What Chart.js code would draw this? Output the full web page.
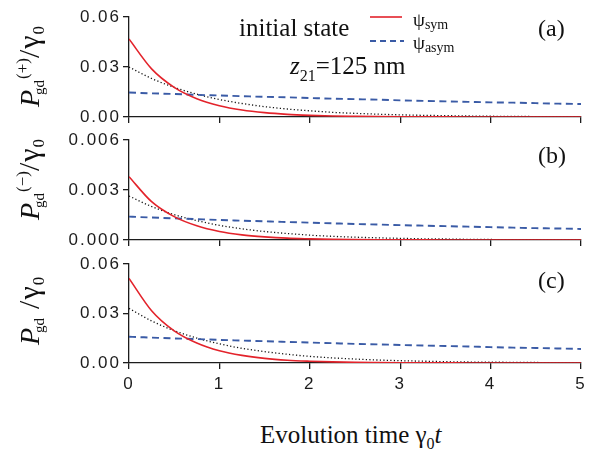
<!DOCTYPE html>
<html>
<head>
<meta charset="utf-8">
<script src="https://cdn.jsdelivr.net/npm/chart.js@4.4.1/dist/chart.umd.min.js"></script>
<style>
  html, body { margin: 0; padding: 0; background: #fff; }
  #wrap { position: relative; width: 601px; height: 455px; overflow: hidden; background: #fff; }
  canvas { position: absolute; left: 0; }
  .t { position: absolute; white-space: nowrap; font-family: "Liberation Serif", "Times New Roman", serif; line-height: 1; color: #111; }
  .ylab { position: absolute; white-space: nowrap; font-family: "Liberation Serif", serif; font-size: 28px; line-height: 1; color: #111; transform-origin: 0 0; transform: rotate(-90deg); }
  .ylab .sb { position: relative; top: 5px; font-size: 15px; margin-left: -5px; }
  .ylab .sp { position: relative; top: -11px; font-size: 17px; margin-left: 1px; }
  .ylab .sl { font-size: 30px; letter-spacing: 1px; }
  .ylab .s0 { position: relative; top: 5px; font-size: 17px; }
  .rel { position: relative; }
</style>
</head>
<body>
<div id="wrap">
  <canvas id="cA" width="601" height="131" style="top:0px"></canvas>
  <canvas id="cB" width="601" height="129" style="top:125px"></canvas>
  <canvas id="cC" width="601" height="155" style="top:250px"></canvas>
</div>
<script>
// ---------------- data ----------------
const TIME = [0, 0.25, 0.5, 0.75, 1, 1.25, 1.5, 1.75, 2, 2.25, 2.5, 2.75, 3, 3.25, 3.5, 3.75, 4, 4.25, 4.5, 4.75, 5];

const SYM_A  = [0.0468, 0.0289, 0.0178, 0.0110, 0.0068, 0.0042, 0.0026, 0.0016, 0.0010, 0.0006, 0.0004, 0.00025, 0.00015, 0.0001, 0.00005, 0.00003, 0.00002, 0.00001, 0.00001, 0, 0];
const ASYM_A = [0.0147, 0.0142, 0.0138, 0.0133, 0.0129, 0.0125, 0.0121, 0.0118, 0.0114, 0.0110, 0.0107, 0.0104, 0.0100, 0.0097, 0.0094, 0.0091, 0.0088, 0.0086, 0.0083, 0.0080, 0.0078];
const DOT_A  = [0.0300, 0.0231, 0.0178, 0.0137, 0.0105, 0.0081, 0.0062, 0.0048, 0.0037, 0.0028, 0.0022, 0.0017, 0.0013, 0.0010, 0.0008, 0.0006, 0.00045, 0.00035, 0.00027, 0.0002, 0.00016];

const SYM_B  = [0.00380, 0.00230, 0.00140, 0.00085, 0.00051, 0.00031, 0.00019, 0.00011, 0.00007, 0.00004, 0.000025, 0.000016, 0.00001, 0.000006, 0.000003, 0.000002, 0.000001, 0, 0, 0, 0];
const ASYM_B = [0.00140, 0.00135, 0.00130, 0.00125, 0.00120, 0.00116, 0.00112, 0.00108, 0.00104, 0.00100, 0.00096, 0.00093, 0.00089, 0.00086, 0.00083, 0.00080, 0.00077, 0.00074, 0.00071, 0.00069, 0.00066];
const DOT_B  = [0.00264, 0.00201, 0.00152, 0.00116, 0.00088, 0.00067, 0.00051, 0.00039, 0.00029, 0.00022, 0.00017, 0.00013, 0.00010, 0.00007, 0.00006, 0.00004, 0.00003, 0.00002, 0.00002, 0.00001, 0.00001];

const SYM_C  = [0.0513, 0.0317, 0.0195, 0.0121, 0.0074, 0.0046, 0.0028, 0.0017, 0.0011, 0.0007, 0.0004, 0.00026, 0.00016, 0.0001, 0.00006, 0.00004, 0.00002, 0.00001, 0.00001, 0, 0];
const ASYM_C = [0.0159, 0.0154, 0.0149, 0.0145, 0.0140, 0.0136, 0.0132, 0.0128, 0.0124, 0.0120, 0.0116, 0.0113, 0.0109, 0.0106, 0.0103, 0.0100, 0.0096, 0.0093, 0.0091, 0.0088, 0.0085];
const DOT_C  = [0.0331, 0.0255, 0.0196, 0.0151, 0.0116, 0.0089, 0.0069, 0.0053, 0.0040, 0.0031, 0.0024, 0.0018, 0.0014, 0.0011, 0.0008, 0.0006, 0.0005, 0.0004, 0.0003, 0.0002, 0.00017];

const X_TICKS   = ['0', '1', '2', '3', '4', '5'];
const Y_TICKS_A = ['0.00', '0.03', '0.06'];
const Y_TICKS_B = ['0.000', '0.003', '0.006'];
const Y_TICKS_C = ['0.00', '0.03', '0.06'];
const Y_MAX     = [0.06, 0.006, 0.06];
const PANEL_TAGS = ['(a)', '(b)', '(c)'];
const SERIES = ['sym', 'asym'];
const SUPERS = ['(+)', '(\u2212)', ''];

// ---------------- styling ----------------
const RED = '#e3232b';
const BLUE = '#3a5ba6';
const AX = '#1c1c1c';

Chart.defaults.font.family = '"Liberation Sans", Arial, sans-serif';
Chart.defaults.color = '#1c1c1c';

const spacing = {
  id: 'spacing',
  beforeDraw(chart) { chart.ctx.letterSpacing = '2px'; }
};

const legendSamples = {
  id: 'legendSamples',
  afterDraw(chart, args, opts) {
    if (!opts.on) return;
    const ctx = chart.ctx;
    ctx.save();
    ctx.letterSpacing = '0px';
    ctx.lineWidth = 1.6; ctx.strokeStyle = RED; ctx.setLineDash([]);
    ctx.beginPath(); ctx.moveTo(370, 17); ctx.lineTo(402, 17); ctx.stroke();
    ctx.lineWidth = 1.8; ctx.strokeStyle = BLUE; ctx.setLineDash([6, 4]);
    ctx.beginPath(); ctx.moveTo(370, 41); ctx.lineTo(404, 41); ctx.stroke();
    ctx.restore();
  }
};

function pts(ys) { return TIME.map((t, i) => ({ x: t, y: ys[i] })); }

function makePanel(id, sym, asym, dot, yTicks, yMax, padTop, xHeight, showX, legendOn) {
  const ctx = document.getElementById(id);
  return new Chart(ctx, {
    type: 'line',
    data: {
      datasets: [
        { label: SERIES[0], data: pts(sym), borderColor: RED, borderWidth: 1.6, pointRadius: 0, cubicInterpolationMode: 'monotone', fill: false },
        { label: SERIES[1], data: pts(asym), borderColor: BLUE, borderWidth: 1.9, borderDash: [7, 4.5], pointRadius: 0, cubicInterpolationMode: 'monotone', fill: false },
        { label: 'dotted', data: pts(dot), borderColor: '#111', borderWidth: 1.3, borderDash: [1.2, 2.3], pointRadius: 0, cubicInterpolationMode: 'monotone', fill: false }
      ]
    },
    options: {
      responsive: false,
      animation: false,
      devicePixelRatio: 1,
      layout: { padding: { top: padTop, right: 20, left: 0, bottom: 0 } },
      plugins: { legend: { display: false }, tooltip: { enabled: false }, legendSamples: { on: legendOn } },
      scales: {
        x: {
          type: 'linear', min: 0, max: 5,
          afterFit: s => { s.height = xHeight; },
          grid: { drawOnChartArea: false, drawTicks: true, tickLength: 6, color: AX, lineWidth: 1.3 },
          border: { display: true, color: AX, width: 1.3 },
          ticks: {
            display: showX, stepSize: 1, padding: 5,
            font: { size: 17 }, color: '#1c1c1c',
            callback: (v, i) => X_TICKS[i]
          }
        },
        y: {
          type: 'linear', min: 0, max: yMax,
          afterFit: s => { s.width = 129; },
          grid: { drawOnChartArea: false, drawTicks: true, tickLength: 6, color: AX, lineWidth: 1.3 },
          border: { display: true, color: AX, width: 1.3 },
          ticks: {
            stepSize: yMax / 2, padding: 2,
            font: { size: 17 }, color: '#1c1c1c',
            callback: (v, i) => yTicks[i]
          }
        }
      }
    },
    plugins: [spacing, legendSamples]
  });
}

makePanel('cA', SYM_A, ASYM_A, DOT_A, Y_TICKS_A, Y_MAX[0], 17, 14, false, true);
makePanel('cB', SYM_B, ASYM_B, DOT_B, Y_TICKS_B, Y_MAX[1], 15, 14, false, false);
makePanel('cC', SYM_C, ASYM_C, DOT_C, Y_TICKS_C, Y_MAX[2], 14, 42, true, false);

// ---------------- text overlays ----------------
const wrap = document.getElementById('wrap');
function addText(html, left, baseline, size, extra) {
  const d = document.createElement('div');
  d.className = 't';
  d.style.fontSize = size + 'px';
  d.style.left = left + 'px';
  d.style.top = (baseline - 0.837 * size) + 'px';
  if (extra) d.style.cssText += extra;
  d.innerHTML = html;
  wrap.appendChild(d);
  return d;
}

addText('initial state', 239, 36, 25);
addText('<i>z</i><span class="rel" style="top:7px;font-size:16px">21</span>=125 nm', 290, 74, 25);
addText('\u03c8<span class="rel" style="top:3px;font-size:14px">' + SERIES[0] + '</span>', 413, 26, 19);
addText('\u03c8<span class="rel" style="top:3px;font-size:14px">' + SERIES[1] + '</span>', 413, 49, 19);

const TAG_BASE = [36, 163, 288];
PANEL_TAGS.forEach((tag, i) => addText(tag, 538, TAG_BASE[i], 24));

addText('Evolution time \u03b3<span class="rel" style="top:6px;font-size:16px">0</span><i>t</i>', 260, 443, 25);

// rotated y-axis labels
const YL_START = [107, 220, 345];
SUPERS.forEach((sup, i) => {
  const d = document.createElement('div');
  d.className = 'ylab';
  d.style.left = (37 - 0.837 * 28) + 'px';
  d.style.top = YL_START[i] + 'px';
  const supHtml = sup ? '<span class="sp">' + sup + '</span>' : '<span style="display:inline-block;width:9px"></span>';
  d.innerHTML = '<i>P</i><span class="sb">gd</span>' + supHtml + '<span class="sl">/\u03b3</span><span class="s0">0</span>';
  wrap.appendChild(d);
});
</script>
</body>
</html>
